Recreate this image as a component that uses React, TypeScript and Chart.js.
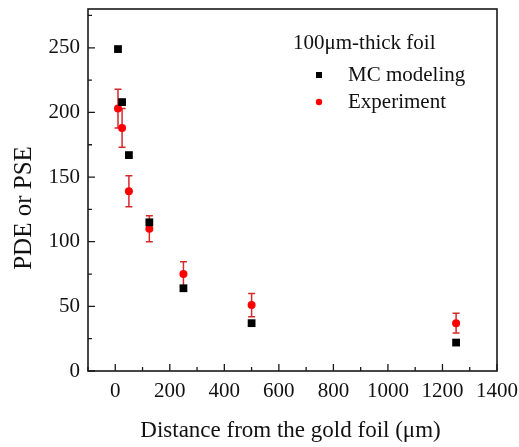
import React, { useEffect, useRef } from "react";
import { Chart, registerables } from "chart.js";

Chart.register(...registerables);

const distances = [10, 25, 50, 125, 250, 500, 1250];
const mcValues = [249, 208, 167, 115, 64, 37, 22];
const expValues = [203, 188, 139, 110, 75, 51, 37];
const expErrors = [15, 15, 12, 10, 9.5, 9, 7.7];
const xTickValues = [0, 200, 400, 600, 800, 1000, 1200, 1400];
const yTickValues = [0, 50, 100, 150, 200, 250];
const xMinorValues = [-100, 100, 300, 500, 700, 900, 1100, 1300];
const yMinorValues = [25, 75, 125, 175, 225, 275];
const legendTitle = "100\u03bcm-thick foil";
const yTitle = "PDE or PSE";
const xTitle = "Distance from the gold foil (\u03bcm)";

const FONT = "'Liberation Serif', 'Times New Roman', serif";

const framePlugin = {
  id: "frame",
  beforeDatasetsDraw(chart: any) {
    const ctx = chart.ctx;
    const xs = chart.scales.x;
    const ys = chart.scales.y;
    const ds = chart.data.datasets[1];
    const errs: number[] = ds.errors;
    ctx.save();
    ctx.strokeStyle = "#d42a2a";
    ctx.lineWidth = 1.5;
    ds.data.forEach((p: any, i: number) => {
      const px = xs.getPixelForValue(p.x);
      const top = ys.getPixelForValue(p.y + errs[i]);
      const bot = ys.getPixelForValue(p.y - errs[i]);
      ctx.beginPath();
      ctx.moveTo(px, top);
      ctx.lineTo(px, bot);
      ctx.moveTo(px - 3.5, top);
      ctx.lineTo(px + 3.5, top);
      ctx.moveTo(px - 3.5, bot);
      ctx.lineTo(px + 3.5, bot);
      ctx.stroke();
    });
    ctx.restore();
  },
  afterDraw(chart: any) {
    const ctx = chart.ctx;
    const a = chart.chartArea;
    const xs = chart.scales.x;
    const ys = chart.scales.y;
    ctx.save();
    ctx.strokeStyle = "#1a1a1a";
    ctx.lineWidth = 1.6;
    ctx.strokeRect(a.left, a.top, a.right - a.left, a.bottom - a.top);
    ctx.lineWidth = 1.3;
    ctx.beginPath();
    xTickValues.forEach((v) => {
      const p = xs.getPixelForValue(v);
      ctx.moveTo(p, a.bottom);
      ctx.lineTo(p, a.bottom - 7);
    });
    xMinorValues.forEach((v) => {
      const p = xs.getPixelForValue(v);
      ctx.moveTo(p, a.bottom);
      ctx.lineTo(p, a.bottom - 4);
    });
    yTickValues.forEach((v) => {
      const p = ys.getPixelForValue(v);
      ctx.moveTo(a.left, p);
      ctx.lineTo(a.left + 7, p);
    });
    yMinorValues.forEach((v) => {
      const p = ys.getPixelForValue(v);
      ctx.moveTo(a.left, p);
      ctx.lineTo(a.left + 4, p);
    });
    ctx.stroke();

    // axis titles
    ctx.fillStyle = "#111";
    ctx.textBaseline = "middle";
    ctx.textAlign = "center";
    ctx.font = `23px ${FONT}`;
    ctx.fillText(xTitle, (a.left + a.right) / 2 - 2, 431);
    ctx.save();
    ctx.translate(24, 208);
    ctx.rotate(-Math.PI / 2);
    ctx.font = `25px ${FONT}`;
    ctx.fillText(yTitle, 0, 0);
    ctx.restore();

    // legend
    const lx = a.left + 205;
    ctx.fillStyle = "#111";
    ctx.font = `21px ${FONT}`;
    ctx.textBaseline = "middle";
    ctx.textAlign = "left";
    ctx.fillText(legendTitle, lx, a.top + 34);
    const items = chart.data.datasets;
    items.forEach((d: any, i: number) => {
      const y = a.top + 66 + i * 27;
      const mx = a.left + 231;
      ctx.fillStyle = d.backgroundColor;
      if (d.pointStyle === "rect") {
        ctx.fillRect(mx - 3, y - 3, 6, 6);
      } else {
        ctx.beginPath();
        ctx.arc(mx, y, 3.2, 0, Math.PI * 2);
        ctx.fill();
      }
      ctx.fillStyle = "#111";
      ctx.fillText(d.label, a.left + 260, y);
    });
    ctx.restore();
  },
};

export default function App() {
  const ref = useRef<HTMLCanvasElement>(null);
  useEffect(() => {
    document.body.style.margin = "0";
    const chart = new Chart(ref.current!, {
      type: "scatter",
      data: {
        datasets: [
          {
            label: "MC modeling",
            data: distances.map((x, i) => ({ x, y: mcValues[i] })),
            backgroundColor: "#000000",
            borderColor: "#000000",
            pointStyle: "rect",
            pointRadius: 5.5,
            borderWidth: 0,
          },
          {
            label: "Experiment",
            data: distances.map((x, i) => ({ x, y: expValues[i] })),
            errors: expErrors,
            backgroundColor: "#ff0000",
            borderColor: "#ff0000",
            pointStyle: "circle",
            pointRadius: 4,
            borderWidth: 0,
          } as any,
        ],
      },
      options: {
        animation: false,
        responsive: false,
        layout: { padding: { top: 9, right: 22, left: 0, bottom: 0 } },
        plugins: { legend: { display: false }, tooltip: { enabled: false } },
        scales: {
          x: {
            type: "linear",
            min: -100,
            max: 1400,
            grid: { display: false, drawTicks: false },
            border: { display: false },
            afterBuildTicks: (s: any) => {
              s.ticks = xTickValues.map((v) => ({ value: v }));
            },
            afterFit: (s: any) => {
              s.height = 76;
              s.paddingLeft = 0;
              s.paddingRight = 0;
            },
            ticks: {
              color: "#111",
              font: { family: FONT, size: 21 },
              padding: 8,
              maxRotation: 0,
              callback: (v: any) => String(v),
            },
          },
          y: {
            type: "linear",
            min: 0,
            max: 280,
            grid: { display: false, drawTicks: false },
            border: { display: false },
            afterBuildTicks: (s: any) => {
              s.ticks = yTickValues.map((v) => ({ value: v }));
            },
            afterFit: (s: any) => {
              s.width = 88;
              s.paddingTop = 0;
              s.paddingBottom = 0;
            },
            ticks: {
              color: "#111",
              font: { family: FONT, size: 21 },
              padding: 8,
              callback: (v: any) => String(v),
            },
          },
        },
      },
      plugins: [framePlugin],
    });
    return () => chart.destroy();
  }, []);
  return (
    <div style={{ width: 519, height: 447 }}>
      <canvas ref={ref} width={519} height={447} style={{ display: "block" }} />
    </div>
  );
}
